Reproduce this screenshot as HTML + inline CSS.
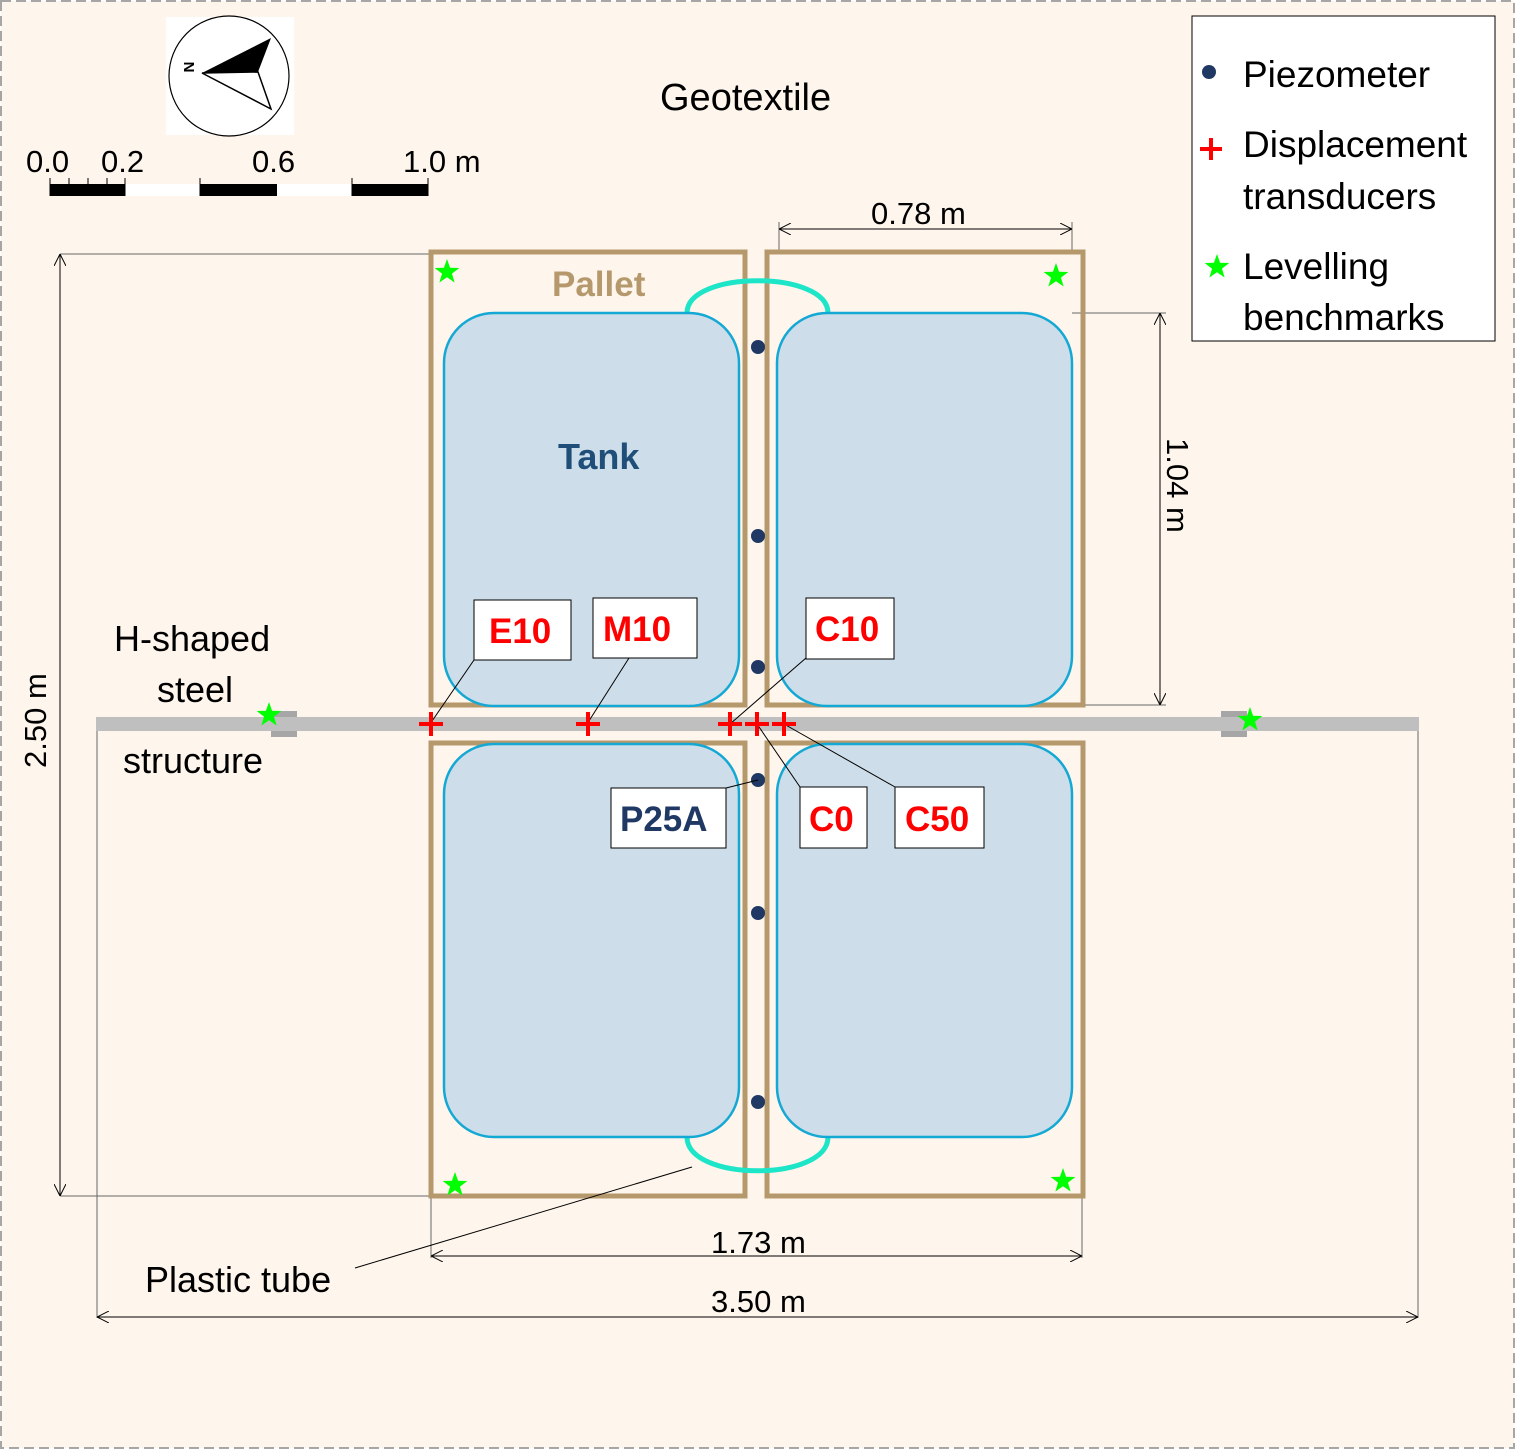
<!DOCTYPE html>
<html><head><meta charset="utf-8"><style>
html,body{margin:0;padding:0;background:#fff}
svg{display:block}
text{font-family:"Liberation Sans",sans-serif}
</style></head><body>
<svg width="1515" height="1449" viewBox="0 0 1515 1449" xmlns="http://www.w3.org/2000/svg">
<defs>
<symbol id="st" viewBox="-13 -13 26 26" overflow="visible"><polygon fill="#00ff00" points="0,-13 3.06,-4.21 12.36,-4.02 4.95,1.61 7.64,10.52 0,5.2 -7.64,10.52 -4.95,1.61 -12.36,-4.02 -3.06,-4.21"/></symbol>
<marker id="ar" viewBox="0 0 12 12" refX="12" refY="6" markerWidth="12" markerHeight="12" orient="auto-start-reverse" markerUnits="userSpaceOnUse"><path d="M0,0 L12,6 L0,12" fill="none" stroke="#000" stroke-width="1"/></marker>
</defs>
<rect x="1" y="1" width="1513" height="1447" fill="#fef5ec" stroke="#a6a6a6" stroke-width="2" stroke-dasharray="10,5"/>

<!-- compass -->
<rect x="166" y="17" width="128" height="118" fill="#fff"/>
<circle cx="229" cy="76" r="60" fill="#fff" stroke="#000" stroke-width="1.2"/>
<polygon points="202,73 271,38 258,72" fill="#000"/>
<polygon points="202,73 258,72 271,109" fill="#fff" stroke="#000" stroke-width="1.5"/>
<text x="178" y="73" font-size="15" font-weight="bold" transform="rotate(90 184 73)" text-anchor="middle">N</text>

<!-- scale bar -->
<g font-size="31">
<text x="26" y="172">0.0</text><text x="101" y="172">0.2</text><text x="252" y="172">0.6</text><text x="403" y="172">1.0 m</text>
</g>
<rect x="50" y="184" width="75" height="12" fill="#000"/>
<rect x="125" y="184" width="75" height="12" fill="#fff"/>
<rect x="200" y="184" width="77" height="12" fill="#000"/>
<rect x="277" y="184" width="75" height="12" fill="#fff"/>
<rect x="352" y="184" width="76" height="12" fill="#000"/>
<path d="M50,178V196 M69,178V184 M88,178V184 M107,178V184 M125,178V196 M200,178V196 M352,178V196 M428,178V196" stroke="#000" stroke-width="1"/>

<text x="660" y="110" font-size="38">Geotextile</text>

<!-- legend -->
<rect x="1192" y="16" width="303" height="325" fill="#fff" stroke="#000" stroke-width="1"/>
<circle cx="1209" cy="72" r="7" fill="#1f3864"/>
<path d="M1200,149H1222 M1211,138V160" stroke="#ff0000" stroke-width="4"/>
<use href="#st" x="1204" y="254" width="26" height="26"/>
<g font-size="37">
<text x="1243" y="87">Piezometer</text>
<text x="1243" y="157">Displacement</text>
<text x="1243" y="209">transducers</text>
<text x="1243" y="279">Levelling</text>
<text x="1243" y="330">benchmarks</text>
</g>

<!-- dimension lines -->
<g stroke="#000" stroke-width="1" fill="none">
<path d="M60,254 H430" stroke="#666"/>
<path d="M60,1196 H430" stroke="#666"/>
<path d="M60,254 V1196" marker-start="url(#ar)" marker-end="url(#ar)"/>
<path d="M97,724 V1318" stroke="#666"/>
<path d="M1418,724 V1318" stroke="#666"/>
<path d="M97,1317 H1418" marker-start="url(#ar)" marker-end="url(#ar)"/>
<path d="M431,1196 V1258" stroke="#666"/>
<path d="M1082,1196 V1258" stroke="#666"/>
<path d="M431,1256 H1082" marker-start="url(#ar)" marker-end="url(#ar)"/>
<path d="M779,222 V252" stroke="#666"/>
<path d="M1072,222 V252" stroke="#666"/>
<path d="M779,229 H1072" marker-start="url(#ar)" marker-end="url(#ar)"/>
<path d="M1072,313 H1166" stroke="#666"/>
<path d="M1085,705 H1166" stroke="#666"/>
<path d="M1160,313 V705" marker-start="url(#ar)" marker-end="url(#ar)"/>
</g>
<g font-size="31">
<text x="871" y="224">0.78 m</text>
<text x="711" y="1253">1.73 m</text>
<text x="711" y="1312">3.50 m</text>
<text x="0" y="0" transform="translate(1167,438) rotate(90)">1.04 m</text>
<text x="0" y="0" transform="translate(46,768) rotate(-90)">2.50 m</text>
</g>

<!-- beam -->
<rect x="96" y="717" width="1323" height="14" fill="#bfbfbf"/>
<rect x="271" y="711" width="26" height="26" fill="#a6a6a6"/>
<rect x="271" y="717" width="26" height="14" fill="#bfbfbf"/>
<rect x="1221" y="711" width="26" height="26" fill="#a6a6a6"/>
<rect x="1221" y="717" width="26" height="14" fill="#bfbfbf"/>

<!-- pallets -->
<g fill="none" stroke="#b5996d" stroke-width="5">
<rect x="431" y="252" width="314" height="453"/>
<rect x="767" y="252" width="316" height="453"/>
<rect x="431" y="743" width="314" height="453"/>
<rect x="767" y="743" width="316" height="453"/>
</g>
<!-- tubes -->
<g fill="none" stroke="#1de5c8" stroke-width="5">
<path d="M687,313 C687,270 828,270 828,313"/>
<path d="M687,1137 C687,1182 828,1182 828,1137"/>
</g>
<!-- tanks -->
<g fill="#cddde9" stroke="#14a8d4" stroke-width="2.5">
<rect x="444" y="313" width="295" height="393" rx="50"/>
<rect x="777" y="313" width="295" height="393" rx="50"/>
<rect x="444" y="744" width="295" height="393" rx="50"/>
<rect x="777" y="744" width="295" height="393" rx="50"/>
</g>
<text x="552" y="296" font-size="35" font-weight="bold" fill="#b5996d">Pallet</text>
<text x="558" y="469" font-size="36" font-weight="bold" fill="#1f4e79">Tank</text>

<!-- piezometers -->
<g fill="#1f3864">
<circle cx="758" cy="347" r="7"/><circle cx="758" cy="536" r="7"/><circle cx="758" cy="667" r="7"/>
<circle cx="758" cy="780" r="7"/><circle cx="758" cy="913" r="7"/><circle cx="758" cy="1102" r="7"/>
</g>

<!-- stars -->
<use href="#st" x="434" y="259" width="26" height="26"/>
<use href="#st" x="1043" y="263" width="26" height="26"/>
<use href="#st" x="256" y="702" width="26" height="26"/>
<use href="#st" x="1237" y="707" width="26" height="26"/>
<use href="#st" x="442" y="1172" width="26" height="26"/>
<use href="#st" x="1050" y="1168" width="26" height="26"/>

<!-- leader lines -->
<g stroke="#000" stroke-width="1">
<path d="M474,660 L430,724"/>
<path d="M629,658 L587,724"/>
<path d="M806,658 L730,724"/>
<path d="M757,724 L800,787"/>
<path d="M784,724 L895,787"/>
<path d="M726,788 L758,780"/>
<path d="M692,1167 L355,1268"/>
</g>
<!-- crosses -->
<g stroke="#ff0000" stroke-width="4">
<path d="M419,724H443 M431,712V736"/>
<path d="M576,724H600 M588,712V736"/>
<path d="M718,724H742 M730,712V736"/>
<path d="M745,724H769 M757,712V736"/>
<path d="M772,724H796 M784,712V736"/>
</g>

<!-- label boxes -->
<g fill="#fff" stroke="#000" stroke-width="1">
<rect x="474" y="600" width="97" height="60"/>
<rect x="593" y="598" width="104" height="60"/>
<rect x="806" y="598" width="88" height="61"/>
<rect x="611" y="788" width="115" height="60"/>
<rect x="800" y="787" width="67" height="61"/>
<rect x="895" y="787" width="89" height="61"/>
</g>
<g font-size="35" font-weight="bold" fill="#ff0000">
<text x="489" y="643">E10</text>
<text x="603" y="641">M10</text>
<text x="815" y="641">C10</text>
<text x="809" y="831">C0</text>
<text x="905" y="831">C50</text>
</g>
<text x="620" y="831" font-size="35" font-weight="bold" fill="#1f3864">P25A</text>

<g font-size="36">
<text x="114" y="651">H-shaped</text>
<text x="157" y="702">steel</text>
<text x="123" y="773">structure</text>
<text x="145" y="1292">Plastic tube</text>
</g>
</svg>
</body></html>
